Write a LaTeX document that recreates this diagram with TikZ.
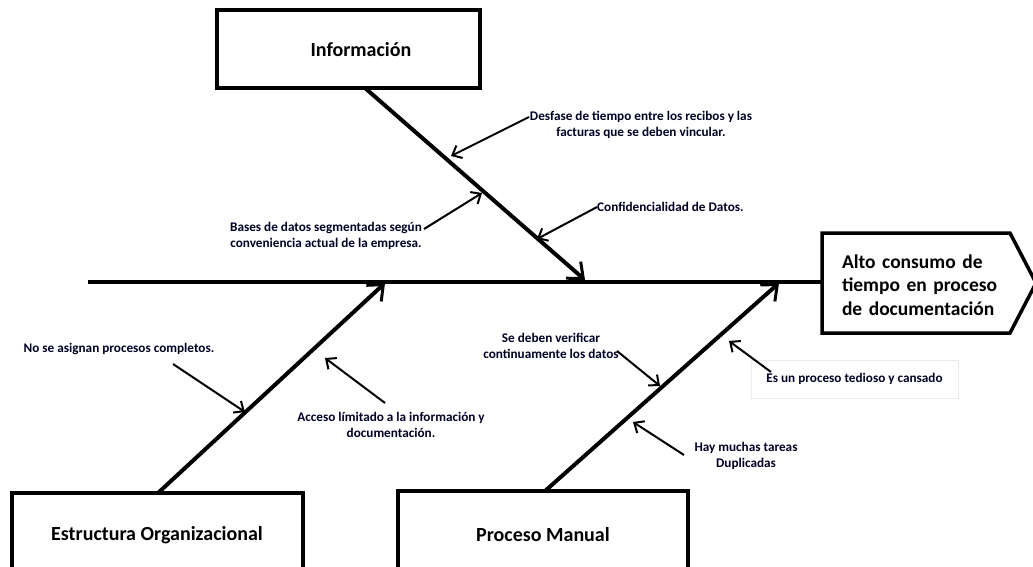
\documentclass[tikz,border=0pt]{standalone}
\usepackage{fontspec}
\setmainfont{Carlito}
\usetikzlibrary{arrows.meta}
\begin{document}
\begin{tikzpicture}[x=1pt,y=-1pt,
  catbox/.style={draw=black,line width=3.5pt,fill=white},
  cattext/.style={font=\fontsize{20}{24}\selectfont\bfseries},
  bone/.style={line width=4pt,-{Straight Barb[length=13pt,width=22pt,line width=3pt]}},
  sub/.style={line width=2pt,-{Straight Barb[length=8pt,width=14pt,line width=2pt]}},
  lbl/.style={font=\fontsize{13.2}{16}\selectfont\bfseries,text=black!85!blue,inner sep=0pt,align=center}]
\useasboundingbox (0,0) rectangle (1033,567);
\fill[white] (0,0) rectangle (1033,567);
% category boxes
\draw[catbox] (217,10) rectangle (480,88);
\node[cattext] (info) at (361,50) {Información};
\draw[catbox] (12,493) rectangle (303,575);
\node[cattext] (estr) at (157,535) {Estructura Organizacional};
\draw[catbox] (398,491) rectangle (688,575);
\node[cattext] (proc) at (543,535) {Proceso Manual};
% anchors for bones
\coordinate (infoB) at (365,88);
\coordinate (estrT) at (158,493);
\coordinate (procT) at (545,491);
\coordinate (spL) at (88,282);
\coordinate (tipI) at (585,280);
\coordinate (tipE) at (385,283);
\coordinate (tipP) at (779,283);
% effect
\draw[line width=3.5pt,fill=white,line join=miter] (822,233) -- (1010,233) -- (1036,283) -- (1010,333) -- (822,333) -- cycle;
\node[inner sep=0pt,text width=166pt,font=\fontsize{19.5}{23.5}\selectfont\bfseries] (eff) at (925,285)
  {\makebox[\linewidth][s]{Alto consumo de}\\\makebox[\linewidth][s]{tiempo en proceso}\\\makebox[\linewidth][s]{de documentación}};
\coordinate (spR) at (822,282);
% spine
\draw[line width=4pt] (spL) -- (spR);
% bones
\draw[bone] (infoB) -- (tipI);
\draw[bone] (estrT) -- (tipE);
\draw[bone] (procT) -- (tipP);
% sub-causes: Informacion
\node[lbl] (l1) at (641,125) {Desfase de tiempo entre los recibos y las\\facturas que se deben vincular.};
\coordinate (s1) at (529,117); \coordinate (t1) at (451,156);
\draw[sub] (s1) -- (t1);
\node[lbl,anchor=west] (l2) at (597,207) {Confidencialidad de Datos.};
\coordinate (t2) at (537,239);
\draw[sub] (l2.west) -- (t2);
\node[lbl] (l3) at (326,236) {Bases de datos segmentadas según\\conveniencia actual de la empresa.};
\coordinate (s3) at (424,229); \coordinate (t3) at (482,193);
\draw[sub] (s3) -- (t3);
% Estructura
\node[lbl] (l4) at (119,349) {No se asignan procesos completos.};
\coordinate (s4) at (173,364); \coordinate (t4) at (245,412);
\draw[sub] (s4) -- (t4);
\node[lbl] (l5) at (391,425) {Acceso límitado a la información y\\documentación.};
\coordinate (s5) at (385,403); \coordinate (t5) at (325,358);
\draw[sub] (s5) -- (t5);
% Proceso manual
\node[lbl] (l6) at (551,346) {Se deben verificar\\continuamente los datos};
\coordinate (s6) at (617,351); \coordinate (t6) at (660,386);
\draw[sub] (s6) -- (t6);
\node[lbl,draw=black!8,line width=0.8pt,minimum width=207pt,minimum height=38pt] (l7) at (854.5,379) {Es un proceso tedioso y cansado};
\coordinate (s7) at (771,372); \coordinate (t7) at (729,341);
\draw[sub] (s7) -- (t7);
\node[lbl] (l8) at (746,456) {Hay muchas tareas\\Duplicadas};
\coordinate (s8) at (684,455); \coordinate (t8) at (633,422);
\draw[sub] (s8) -- (t8);
\end{tikzpicture}
\end{document}
